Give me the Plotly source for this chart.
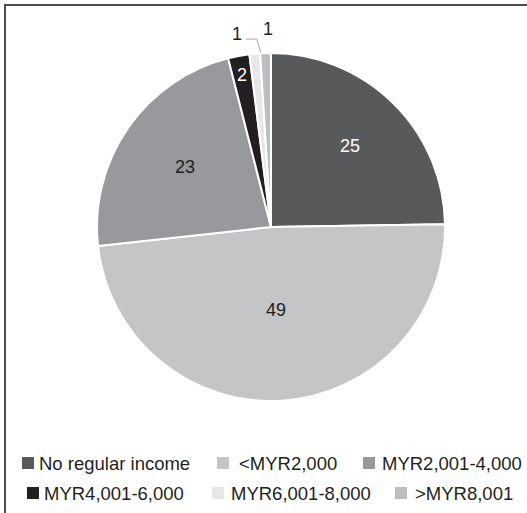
import math
import plotly.graph_objects as go

# Monthly household income groups (%)
categories = ["No regular income", "<MYR2,000", "MYR2,001-4,000",
              "MYR4,001-6,000", "MYR6,001-8,000", ">MYR8,001"]
values = [25, 49, 23, 2, 1, 1]

colors = ["#58595b", "#c4c5c7", "#98999c", "#231f20", "#e6e7e8", "#bcbdc0"]
label_colors = ["#ffffff", "#231f20", "#231f20", "#ffffff", "#231f20", "#231f20"]
# radial position of each value label (fraction of radius); >1 means outside
label_radius = [0.65, 0.48, 0.60, 0.89, 1.12, 1.14]

W, H = 527, 513
CX, CY, R = 271, 227, 174          # pie centre and radius in pixels
FONT = "Liberation Sans, Arial, sans-serif"


def px(x):
    return x / W


def py(y):
    return 1 - y / H


fig = go.Figure(go.Pie(
    labels=categories,
    values=values,
    sort=False,
    direction="clockwise",
    rotation=0,
    marker=dict(colors=colors, line=dict(color="#ffffff", width=2)),
    textinfo="none",
    hoverinfo="label+value",
    showlegend=False,
    domain=dict(x=[px(CX - R), px(CX + R)], y=[py(CY + R), py(CY - R)]),
))

annotations = []
shapes = []

# value labels placed along each slice's mid-angle
total = sum(values)
cum = 0
for i, v in enumerate(values):
    theta = math.radians((cum + v / 2) / total * 360)
    cum += v
    rf = label_radius[i]
    x = CX + rf * R * math.sin(theta)
    y = CY - rf * R * math.cos(theta)
    if i == 4:
        # small slice: label pulled left with a leader line
        ex = CX + R * math.sin(theta)
        ey = CY - R * math.cos(theta)
        elbow_y = CY - 1.08 * R
        elbow_x = ex + 2
        end_x = elbow_x - 11
        shapes.append(dict(
            type="path", xref="paper", yref="paper",
            path=f"M {px(ex + 6)} {py(ey - 1)} L {px(elbow_x)} {py(elbow_y)} L {px(end_x)} {py(elbow_y)}",
            line=dict(color="#a7a9ac", width=1),
        ))
        x, y = end_x - 9, elbow_y - 5
    if i == 5:
        x += 3
    annotations.append(dict(
        x=px(x), y=py(y), xref="paper", yref="paper",
        text=str(v), showarrow=False,
        font=dict(family=FONT, size=18, color=label_colors[i]),
        xanchor="center", yanchor="middle",
    ))

# legend laid out in two rows below the pie
legend_rows = [(463, [(22, 37), (217, 237), (363, 380)]),
               (493, [(27, 42), (212, 229), (395, 413)])]
k = 0
for row_y, slots in legend_rows:
    for sq_x, tx_x in slots:
        shapes.append(dict(
            type="rect", xref="paper", yref="paper",
            x0=px(sq_x), x1=px(sq_x + 12), y0=py(row_y + 6), y1=py(row_y - 6),
            fillcolor=colors[k], line=dict(width=0),
        ))
        annotations.append(dict(
            x=px(tx_x), y=py(row_y), xref="paper", yref="paper",
            text=categories[k], showarrow=False,
            font=dict(family=FONT, size=18.5, color="#231f20"),
            xanchor="left", yanchor="middle",
        ))
        k += 1

# chart frame
shapes.append(dict(
    type="rect", xref="paper", yref="paper",
    x0=px(5), y1=py(5), x1=1.2, y0=-0.2,
    line=dict(color="#4d4d4d", width=2), fillcolor="rgba(0,0,0,0)",
))

fig.update_layout(
    width=W, height=H,
    margin=dict(l=0, r=0, t=0, b=0),
    paper_bgcolor="#ffffff",
    plot_bgcolor="#ffffff",
    annotations=annotations,
    shapes=shapes,
)

fig.write_html("out.html", config={"displayModeBar": False})
